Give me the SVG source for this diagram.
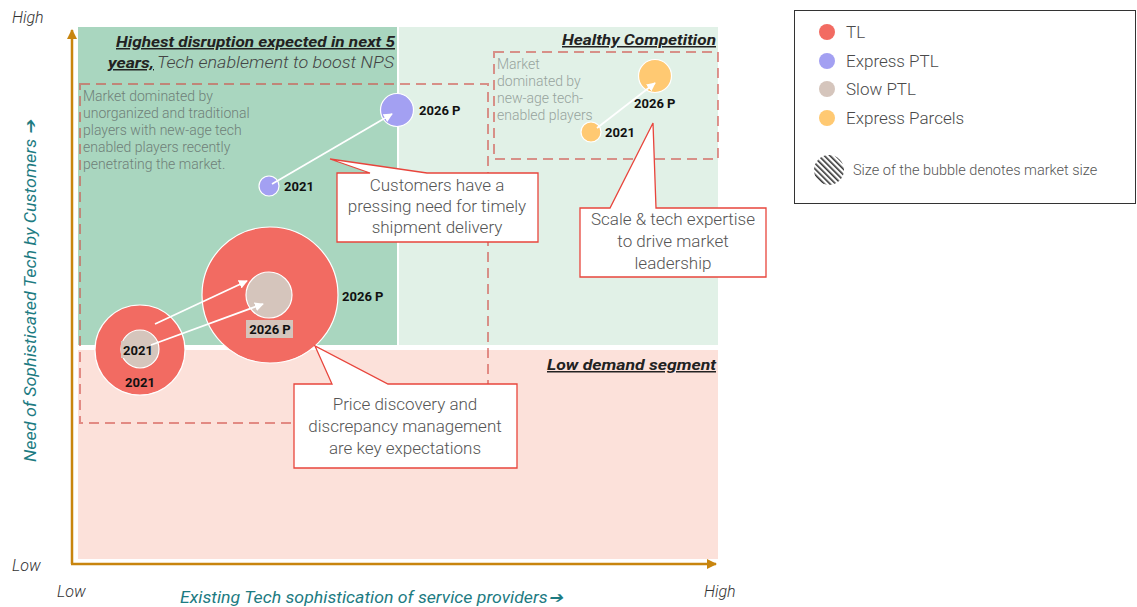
<svg xmlns="http://www.w3.org/2000/svg" width="1137" height="607" viewBox="0 0 1137 607">
<style>
text{font-family:Roboto,"Liberation Sans",sans-serif}
.ax{font-style:italic;font-size:16px;fill:#333;font-weight:300}
.axt{font-style:italic;font-size:16px;fill:#1D7B82}
.qt{font-style:italic;font-weight:bold;font-size:15px;fill:#222;text-decoration:underline}
.note{font-size:14px;fill:#6F8078;font-weight:300}
.note2{font-size:14px;fill:#97A39D;font-weight:300}
.yr{font-weight:bold;font-size:13px;fill:#111}
.co{font-size:17px;fill:#555;text-anchor:middle;font-weight:300}
.callout{fill:#fff;stroke:#E8453C;stroke-width:1.3}
.dash{fill:none;stroke:#D0504A;stroke-opacity:0.6;stroke-width:2;stroke-dasharray:10 6}
.arr{stroke:#fff;stroke-width:1.8;fill:none;marker-end:url(#wa)}
.bub{stroke:#fff;stroke-width:1.2}
.lg{font-size:17px;fill:#4a4a4a;font-weight:300}
</style>
<defs>
<marker id="wa" viewBox="0 0 10 10" refX="9" refY="5" markerWidth="5" markerHeight="5" orient="auto" markerUnits="strokeWidth"><path d="M0,0 L10,5 L0,10 z" fill="#fff"/></marker>
<marker id="oa" viewBox="0 0 10 10" refX="9" refY="5" markerWidth="4" markerHeight="4" orient="auto" markerUnits="strokeWidth"><path d="M0,0 L10,5 L0,10 z" fill="#C8850E"/></marker>
<pattern id="hatch" width="4" height="4" patternUnits="userSpaceOnUse" patternTransform="rotate(-45)"><rect x="0" y="0" width="1.6" height="4" fill="#333"/></pattern>
</defs>

<g id="quadrants">
<rect x="78" y="27" width="319" height="318" fill="#A9D6BF"/>
<rect x="399" y="27" width="319" height="318" fill="#E1F1E7"/>
<rect x="78" y="350" width="640" height="209" fill="#FCE1DA"/>
</g>

<g id="axes">
<line x1="72" y1="564" x2="72" y2="30" stroke="#C8850E" stroke-width="2.5" marker-end="url(#oa)"/>
<line x1="71" y1="564" x2="716" y2="564" stroke="#C8850E" stroke-width="2.5" marker-end="url(#oa)"/>
<text class="ax" x="12" y="23">High</text>
<text class="ax" x="12" y="571">Low</text>
<text class="ax" x="57" y="597">Low</text>
<text class="ax" x="704" y="597">High</text>
<text class="axt" x="180" y="603" textLength="382" lengthAdjust="spacingAndGlyphs">Existing Tech sophistication of service providers➔</text>
<text class="axt" transform="translate(36,291) rotate(-90)" text-anchor="middle" textLength="342" lengthAdjust="spacingAndGlyphs">Need of Sophisticated Tech by Customers ➔</text>
</g>

<g id="quadrant-titles">
<text class="qt" x="116" y="47" textLength="279" lengthAdjust="spacingAndGlyphs">Highest disruption expected in next 5</text>
<text class="qt" x="108" y="68" textLength="46" lengthAdjust="spacingAndGlyphs">years,</text>
<text x="157" y="68" font-style="italic" font-size="16" font-weight="300" fill="#444" textLength="237" lengthAdjust="spacingAndGlyphs">Tech enablement to boost NPS</text>
<text class="qt" x="562" y="45" textLength="154" lengthAdjust="spacingAndGlyphs">Healthy Competition</text>
<text class="qt" x="547" y="370" textLength="169" lengthAdjust="spacingAndGlyphs">Low demand segment</text>
</g>

<g id="segment-boxes">
<rect class="dash" x="80" y="84" width="408" height="339"/>
<rect class="dash" x="494" y="52" width="224" height="107"/>
<text class="note" x="83"><tspan x="83" y="101">Market dominated by</tspan><tspan x="83" y="118">unorganized and traditional</tspan><tspan x="83" y="135">players with new-age tech</tspan><tspan x="83" y="152">enabled players recently</tspan><tspan x="83" y="169">penetrating the market.</tspan></text>
<text class="note2" x="497"><tspan x="497" y="69">Market</tspan><tspan x="497" y="86">dominated by</tspan><tspan x="497" y="103">new-age tech-</tspan><tspan x="497" y="120">enabled players</tspan></text>
</g>

<g id="bubble-tl-2021">
<circle class="bub" cx="140" cy="350" r="45" fill="#F26B62"/>
<text class="yr" x="140" y="387" text-anchor="middle">2021</text>
</g>
<g id="bubble-tl-2026">
<circle class="bub" cx="270" cy="295" r="68" fill="#F26B62"/>
<text class="yr" x="342" y="301">2026 P</text>
</g>
<g id="bubble-slowptl-2021">
<circle class="bub" cx="140" cy="349" r="19" fill="#D5C5BC"/>
<rect x="121" y="341" width="35" height="17" fill="#D5C5BC"/>
<text class="yr" x="138" y="355" text-anchor="middle">2021</text>
</g>
<g id="bubble-slowptl-2026">
<circle class="bub" cx="269" cy="295" r="23" fill="#D5C5BC"/>
<rect x="246" y="320" width="47" height="18" fill="#D5C5BC"/>
<text class="yr" x="270" y="334" text-anchor="middle">2026 P</text>
</g>
<g id="bubble-exptl-2021">
<circle class="bub" cx="269" cy="186" r="10" fill="#A3A0F2"/>
<text class="yr" x="284" y="191">2021</text>
</g>
<g id="bubble-exptl-2026">
<circle class="bub" cx="397" cy="110" r="16.5" fill="#A3A0F2"/>
<text class="yr" x="419" y="115">2026 P</text>
</g>
<g id="bubble-parcels-2021">
<circle class="bub" cx="591" cy="132" r="10" fill="#FFC972"/>
<text class="yr" x="605" y="137">2021</text>
</g>
<g id="bubble-parcels-2026">
<circle class="bub" cx="655" cy="76" r="16.5" fill="#FFC972"/>
<text class="yr" x="634" y="108">2026 P</text>
</g>

<g id="connectors">
<line class="arr" x1="155" y1="324" x2="247" y2="281"/>
<line class="arr" x1="151" y1="345" x2="263" y2="304"/>
<line class="arr" x1="272" y1="184" x2="392" y2="114"/>
<line class="arr" x1="597" y1="128" x2="655" y2="83"/>
</g>

<g id="callout-customers">
<path class="callout" d="M337,173 L370,173 L330,159 L427,173 L538,173 L538,242 L337,242 Z"/>
<text class="co"><tspan x="437" y="191">Customers have a</tspan><tspan x="437" y="212">pressing need for timely</tspan><tspan x="437" y="233">shipment delivery</tspan></text>
</g>
<g id="callout-scale">
<path class="callout" d="M580,208 L610,208 L653,123 L656,208 L766,208 L766,277 L580,277 Z"/>
<text class="co"><tspan x="673" y="225">Scale &amp; tech expertise</tspan><tspan x="673" y="247">to drive market</tspan><tspan x="673" y="269">leadership</tspan></text>
</g>
<g id="callout-price">
<path class="callout" d="M294,384 L332,384 L315,346 L388,384 L517,384 L517,468 L294,468 Z"/>
<text class="co"><tspan x="405" y="410">Price discovery and</tspan><tspan x="405" y="432">discrepancy management</tspan><tspan x="405" y="454">are key expectations</tspan></text>
</g>

<g id="legend">
<rect x="794.5" y="10.5" width="341" height="193" fill="#fff" stroke="#333" stroke-width="1"/>
<circle cx="827" cy="32" r="8" fill="#F26B62"/>
<text class="lg" x="846" y="38">TL</text>
<circle cx="827" cy="61" r="8" fill="#A3A0F2"/>
<text class="lg" x="846" y="67">Express PTL</text>
<circle cx="827" cy="89" r="8" fill="#D5C5BC"/>
<text class="lg" x="846" y="95">Slow PTL</text>
<circle cx="827" cy="118" r="8" fill="#FFC972"/>
<text class="lg" x="846" y="124">Express Parcels</text>
<circle cx="829" cy="170" r="15" fill="url(#hatch)"/>
<text x="853" y="175" font-size="14.5" fill="#555" font-weight="300">Size of the bubble denotes market size</text>
</g>
</svg>
